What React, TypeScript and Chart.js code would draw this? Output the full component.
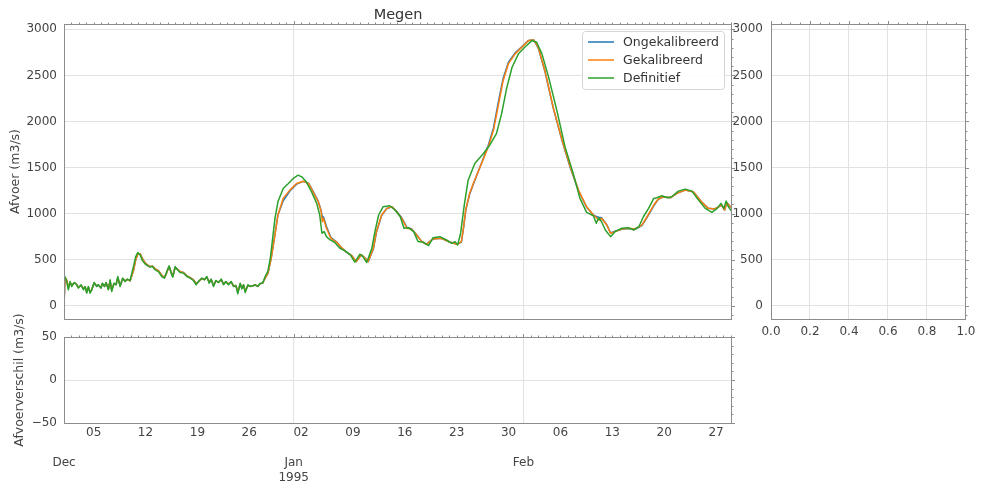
import React, { useEffect, useRef } from 'react';
import { Chart, registerables } from 'chart.js';

Chart.register(...registerables);

const W = 981;
const H = 486;
const FONT = "'DejaVu Sans', sans-serif";
const TEXT = '#444444';
const GRID = '#e2e2e2';
const SPINE = '#8c8c8c';
const BLUE = '#1f77b4';
const ORANGE = '#ff7f0e';
const GREEN = '#2ca02c';

// ---- data: time in days since 1994-12-01 00:00, discharge in m3/s ----
const definitiefTijd = [
  0.14, 0.36, 0.59, 0.82, 1.04, 1.4, 1.71, 1.94, 2.31, 2.62, 2.84, 3.07, 3.29, 3.51, 3.75,
  4.06, 4.42, 4.64, 5.0, 5.18, 5.46, 5.68, 5.99, 6.22, 6.44, 6.75, 7.03, 7.26, 7.57, 7.93,
  8.24, 8.56, 8.92, 9.37, 9.68, 9.95, 10.27, 10.59, 10.95, 11.3, 11.62, 11.94, 12.3, 12.75, 13.2,
  13.56, 13.87, 14.19, 14.46, 14.68, 15.0, 15.32, 15.67, 16.12, 16.58, 17.03, 17.47, 17.83, 18.15, 18.6,
  18.96, 19.27, 19.6, 19.86, 20.18, 20.49, 20.85, 21.22, 21.53, 21.84, 22.2, 22.56, 22.88, 23.2, 23.46,
  23.78, 24.0, 24.23, 24.46, 24.82, 25.13, 25.44, 25.8, 26.17, 26.48, 26.8, 27.15, 27.52,
  27.85, 28.1, 28.47, 28.87, 29.58, 30.28, 30.94, 31.59, 32.09, 32.7, 33.4, 34.11, 34.51, 34.81, 35.11,
  35.42, 35.92, 36.52, 37.23, 37.93, 38.64, 39.24, 39.94, 40.35, 40.85, 41.55, 41.96, 42.46, 43.06, 43.97,
  44.67, 45.38, 45.88, 46.48, 47.19, 47.79, 48.5, 49.2, 49.81, 50.71, 51.62, 52.32, 52.77, 53.13, 53.53,
  54.03, 54.54, 55.44, 56.6, 57.45, 58.36, 59.06, 59.77, 60.47, 61.33, 62.18, 63.14, 63.79, 64.5, 65.4,
  66.51, 67.62, 68.72, 69.63, 70.53, 71.44, 71.84, 72.15, 72.55, 73.05, 73.76, 74.36, 75.27, 76.17, 76.88,
  77.58, 78.19, 78.89, 79.59, 80.0, 80.7, 81.4, 82.01, 82.91, 83.82, 84.73, 85.63, 86.54, 87.44, 88.15,
  88.65, 89.05, 89.36, 89.66, 90.16,
];
const definitiefAfvoer = [
  317, 263, 173, 263, 209, 252, 227, 191, 227, 173, 209, 137, 209, 137, 173,
  252, 209, 227, 191, 245, 209, 252, 173, 281, 155, 245, 227, 317, 209, 300,
  263, 289, 274, 425, 533, 577, 552, 490, 454, 433, 419, 425, 390, 371, 317,
  300, 371, 433, 354, 310, 425, 390, 360, 354, 317, 300, 274, 227, 263, 300,
  281, 317, 245, 289, 209, 274, 252, 289, 227, 263, 227, 263, 209, 216, 130,
  245, 181, 227, 144, 227, 209, 216, 227, 209, 245, 245, 317, 375,
  520, 690, 949, 1128, 1273, 1327, 1382, 1417, 1399, 1345, 1237, 1111, 985, 787, 804,
  750, 714, 689, 624, 595, 552, 473, 559, 533, 469, 624, 804, 985, 1074, 1085,
  1039, 966, 841, 847, 804, 696, 689, 653, 739, 750, 714, 678, 696, 660, 790,
  1100, 1363, 1544, 1652, 1742, 1868, 2085, 2373, 2589, 2734, 2806, 2878, 2860, 2734, 2481,
  2121, 1724, 1436, 1165, 1014, 977, 895, 955, 912, 822, 750, 804, 841, 847, 822,
  858, 966, 1057, 1165, 1172, 1194, 1172, 1183, 1244, 1266, 1244, 1147, 1057, 1014, 1057,
  1111, 1057, 1136, 1074, 1020,
];

const gekalibreerdTijd = [
  0.0, 0.14, 0.36, 0.59, 0.82, 1.04, 1.4, 1.71, 1.94, 2.31, 2.62, 2.84, 3.07, 3.29, 3.51, 3.75,
  4.06, 4.42, 4.64, 5.0, 5.18, 5.46, 5.68, 5.99, 6.22, 6.44, 6.75, 7.03, 7.26, 7.57, 7.93,
  8.24, 8.56, 8.92, 9.37, 9.68, 9.95, 10.27, 10.59, 10.95, 11.3, 11.62, 11.94, 12.3, 12.75, 13.2,
  13.56, 13.87, 14.19, 14.46, 14.68, 15.0, 15.32, 15.67, 16.12, 16.58, 17.03, 17.47, 17.83, 18.15, 18.6,
  18.96, 19.27, 19.6, 19.86, 20.18, 20.49, 20.85, 21.22, 21.53, 21.84, 22.2, 22.56, 22.88, 23.2, 23.46,
  23.78, 24.0, 24.23, 24.46, 24.82, 25.13, 25.44, 25.8, 26.17, 26.48, 26.8, 27.15, 27.52,
  27.97, 28.47, 28.87, 29.58, 30.48, 31.39, 32.3, 33.0, 33.6, 34.31, 34.71, 34.86, 35.01, 35.42, 36.02,
  36.82, 37.43, 38.13, 38.84, 39.44, 40.14, 40.65, 41.05, 41.75, 42.16, 42.86, 43.57, 44.27, 44.88, 45.58,
  46.28, 46.89, 47.59, 48.3, 48.9, 49.81, 50.91, 52.12, 53.03, 53.63, 53.93, 54.23, 54.74, 55.24, 56.35,
  57.25, 57.96, 58.66, 59.27, 59.97, 60.88, 61.78, 62.69, 63.39, 63.99, 64.9, 66.01, 67.22, 68.32, 69.43,
  70.53, 71.44, 71.94, 72.15, 72.55, 73.25, 73.76, 74.36, 75.27, 76.17, 77.08, 77.98, 78.69, 79.59, 80.2,
  80.9, 81.81, 82.71, 83.82, 84.93, 86.03, 86.94, 87.84, 88.75, 89.15, 89.45, 90.16,
];
const gekalibreerdAfvoer = [
  0, 300, 280, 200, 250, 225, 250, 230, 200, 220, 185, 205, 150, 200, 150, 175,
  245, 215, 225, 195, 240, 210, 250, 180, 270, 170, 240, 230, 305, 220, 295,
  270, 285, 270, 380, 500, 560, 565, 510, 465, 440, 425, 430, 400, 380, 330,
  305, 360, 425, 365, 320, 415, 395, 370, 360, 325, 305, 280, 240, 260, 295,
  285, 310, 255, 285, 220, 270, 255, 285, 235, 260, 235, 260, 215, 220, 150,
  235, 190, 225, 160, 220, 210, 215, 225, 210, 240, 245, 300, 350,
  516, 768, 985, 1165, 1255, 1327, 1352, 1327, 1237, 1128, 1020, 912, 949, 841, 732,
  689, 631, 581, 544, 479, 552, 516, 479, 624, 804, 985, 1057, 1074, 1020, 949,
  841, 833, 768, 696, 667, 725, 732, 689, 667, 696, 858, 1050, 1219, 1327, 1544,
  1724, 1904, 2193, 2445, 2626, 2734, 2806, 2878, 2885, 2806, 2553, 2157, 1796, 1508, 1255,
  1074, 985, 949, 930, 949, 876, 787, 804, 833, 841, 833, 876, 966, 1093, 1158,
  1183, 1172, 1219, 1255, 1237, 1128, 1057, 1050, 1093, 1039, 1118, 1057,
];
// Ongekalibreerd shares the time stamps of Gekalibreerd
const ongekalibreerdAfvoer = [
  0, 300, 280, 200, 250, 225, 250, 230, 200, 220, 185, 205, 150, 200, 150, 175,
  245, 215, 225, 195, 240, 210, 250, 180, 270, 170, 240, 230, 305, 220, 295,
  270, 285, 270, 380, 500, 560, 565, 510, 465, 440, 425, 430, 400, 380, 330,
  305, 360, 425, 365, 320, 415, 395, 370, 360, 325, 305, 280, 240, 260, 295,
  285, 310, 255, 285, 220, 270, 255, 285, 235, 260, 235, 260, 215, 220, 150,
  235, 190, 225, 160, 220, 210, 215, 225, 210, 240, 245, 300, 350,
  520, 775, 985, 1140, 1245, 1320, 1350, 1330, 1245, 1135, 1030, 960, 965, 860, 740,
  690, 631, 581, 544, 479, 552, 516, 479, 615, 795, 980, 1055, 1074, 1025, 955,
  850, 835, 770, 696, 667, 725, 732, 689, 667, 690, 850, 1040, 1210, 1320, 1550,
  1740, 1930, 2230, 2470, 2640, 2745, 2810, 2880, 2885, 2800, 2545, 2150, 1790, 1500, 1250,
  1070, 985, 965, 960, 955, 880, 790, 808, 830, 838, 830, 870, 960, 1085, 1155,
  1183, 1172, 1219, 1255, 1237, 1128, 1057, 1050, 1093, 1039, 1118, 1057,
];

// ---- axes ----
const xMin = 0;
const xMax = 90.15;
const afvoerMin = -144;
const afvoerMax = 3058;
const afvoerTicks = [0, 500, 1000, 1500, 2000, 2500, 3000];
const verschilTicks = [-50, 0, 50];
const verschilLabels = ['\u221250', '0', '50'];
const dagTickDagen = [4, 11, 18, 25, 32, 39, 46, 53, 60, 67, 74, 81, 88];
const dagTickLabels = ['05', '12', '19', '26', '02', '09', '16', '23', '30', '06', '13', '20', '27'];
const maandTickDagen = [0, 31, 62];
const maandTickLabels = [['Dec'], ['Jan', '1995'], ['Feb']];
const zijTicks = [0, 0.2, 0.4, 0.6, 0.8, 1.0];

const range = (a: number, b: number, s: number) => {
  const out: number[] = [];
  for (let v = a; v <= b + 1e-9; v += s) out.push(Math.round(v * 1000) / 1000);
  return out;
};

const dayMinor = range(1, 90, 1).filter((d) => !maandTickDagen.includes(d));
const dayMajor = maandTickDagen.filter((d) => d > 0);
const afvoerMinor = range(-100, 3000, 100).filter((v) => v % 500 !== 0);
const verschilMinor = range(-40, 40, 10).filter((v) => v !== 0);
const zijMinor = range(0, 1, 0.05).filter((v) => Math.abs(v * 5 - Math.round(v * 5)) > 1e-6);

const framePlugin = {
  id: 'frame',
  afterDatasetsDraw(chart: any, _args: any, opts: any) {
    const { ctx, chartArea: a } = chart;
    const L = a.left + 0.5;
    const R = a.right - 0.5;
    const T = a.top + 0.5;
    const B = a.bottom + 0.5;
    ctx.save();
    ctx.strokeStyle = SPINE;
    ctx.lineWidth = 1;
    ctx.beginPath();
    if (opts.top) {
      const sc = chart.scales[opts.top.axis];
      const draw = (vals: number[], len: number) => {
        vals.forEach((v) => {
          const px = Math.round(sc.getPixelForValue(v)) + 0.5;
          if (px < L - 0.6 || px > R + 0.6) return;
          ctx.moveTo(px, T);
          ctx.lineTo(px, T - len);
        });
      };
      draw(opts.top.minor, 2);
      draw(opts.top.major, 3.5);
    }
    if (opts.right) {
      const sc = chart.scales[opts.right.axis];
      const draw = (vals: number[], len: number) => {
        vals.forEach((v) => {
          const py = Math.round(sc.getPixelForValue(v)) + 0.5;
          if (py < T - 0.6 || py > B + 0.6) return;
          ctx.moveTo(R, py);
          ctx.lineTo(R + len, py);
        });
      };
      draw(opts.right.minor, 2);
      draw(opts.right.major, 3.5);
    }
    ctx.stroke();
    ctx.strokeRect(L, T, R - L, B - T);
    ctx.restore();
  },
};

const titleLegendPlugin = {
  id: 'titleLegend',
  afterDraw(chart: any, _args: any, opts: any) {
    if (!opts || !opts.enabled) return;
    const { ctx, chartArea: a } = chart;
    ctx.save();
    ctx.fillStyle = '#333333';
    ctx.font = `14.5px ${FONT}`;
    ctx.textAlign = 'center';
    ctx.textBaseline = 'alphabetic';
    ctx.fillText(opts.title, (a.left + a.right) / 2, 18.5);

    const bx = 582.5;
    const by = 31.5;
    const bw = 142;
    const bh = 58;
    const r = 3;
    ctx.beginPath();
    ctx.moveTo(bx + r, by);
    ctx.lineTo(bx + bw - r, by);
    ctx.arcTo(bx + bw, by, bx + bw, by + r, r);
    ctx.lineTo(bx + bw, by + bh - r);
    ctx.arcTo(bx + bw, by + bh, bx + bw - r, by + bh, r);
    ctx.lineTo(bx + r, by + bh);
    ctx.arcTo(bx, by + bh, bx, by + bh - r, r);
    ctx.lineTo(bx, by + r);
    ctx.arcTo(bx, by, bx + r, by, r);
    ctx.closePath();
    ctx.fillStyle = 'rgba(255,255,255,0.85)';
    ctx.fill();
    ctx.strokeStyle = '#d4d4d4';
    ctx.lineWidth = 1;
    ctx.stroke();

    ctx.font = `12.5px ${FONT}`;
    ctx.textAlign = 'left';
    ctx.textBaseline = 'middle';
    chart.data.datasets.forEach((ds: any, i: number) => {
      const y = 42 + i * 18;
      ctx.strokeStyle = ds.borderColor;
      ctx.lineWidth = 1.5;
      ctx.beginPath();
      ctx.moveTo(588, y);
      ctx.lineTo(614, y);
      ctx.stroke();
      ctx.fillStyle = '#333333';
      ctx.fillText(ds.label, 623, y + 0.5);
    });
    ctx.restore();
  },
};

const tickFont = { family: FONT, size: 12 };
const titleFont = { family: FONT, size: 12.5 };

function yAxis(min: number, max: number, values: number[], width: number, pad: number, label: (v: number) => string, title?: { text: string; padTop: number }) {
  return {
    type: 'linear' as const,
    position: 'left' as const,
    min,
    max,
    afterBuildTicks: (s: any) => {
      s.ticks = values.map((v) => ({ value: v }));
    },
    afterFit: (s: any) => {
      s.width = width;
    },
    grid: { color: GRID, lineWidth: 1, drawTicks: false },
    border: { display: false },
    ticks: { padding: pad, color: TEXT, font: tickFont, callback: (v: any) => label(Number(v)) },
    title: title
      ? { display: true, text: title.text, color: TEXT, font: titleFont, padding: { top: title.padTop, bottom: 0 } }
      : { display: false },
  };
}

function lineData(t: number[], v: number[]) {
  return t.map((x, i) => ({ x, y: v[i] }));
}

function tijdLabel(v: number): string | string[] {
  const d = dagTickDagen.indexOf(v);
  if (d >= 0) return dagTickLabels[d];
  const m = maandTickDagen.indexOf(v);
  if (m >= 0) return ['', '', ...maandTickLabels[m]];
  return '';
}

export default function App() {
  const mainRef = useRef<HTMLCanvasElement>(null);
  const sideRef = useRef<HTMLCanvasElement>(null);
  const diffRef = useRef<HTMLCanvasElement>(null);

  useEffect(() => {
    const charts: Chart[] = [];
    const common = {
      responsive: false,
      maintainAspectRatio: false,
      animation: false as const,
      events: [] as any[],
    };

    // main panel
    charts.push(
      new Chart(mainRef.current as HTMLCanvasElement, {
        type: 'line',
        data: {
          datasets: [
            { label: 'Ongekalibreerd', data: lineData(gekalibreerdTijd, ongekalibreerdAfvoer), borderColor: BLUE, order: 2 },
            { label: 'Gekalibreerd', data: lineData(gekalibreerdTijd, gekalibreerdAfvoer), borderColor: ORANGE, order: 1 },
            { label: 'Definitief', data: lineData(definitiefTijd, definitiefAfvoer), borderColor: GREEN, order: 0 },
          ].map((d) => ({ ...d, borderWidth: 1.5, pointRadius: 0, tension: 0, fill: false, borderJoinStyle: 'round' as const })),
        },
        options: {
          ...common,
          layout: { padding: { left: 0, top: 24, right: W - 732, bottom: H - 319 } },
          plugins: {
            legend: { display: false },
            tooltip: { enabled: false },
            frame: {
              top: { axis: 'x', minor: dayMinor, major: dayMajor },
              right: { axis: 'y', minor: afvoerMinor, major: afvoerTicks },
            },
            titleLegend: { enabled: true, title: 'Megen' },
          } as any,
          scales: {
            x: {
              type: 'linear',
              min: xMin,
              max: xMax,
              afterBuildTicks: (s: any) => {
                s.ticks = dayMajor.map((v) => ({ value: v }));
              },
              afterFit: (s: any) => {
                s.height = 0;
              },
              ticks: { display: false },
              grid: { color: GRID, drawTicks: false },
              border: { display: false },
            },
            y: yAxis(afvoerMin, afvoerMax, afvoerTicks, 64, 7, (v) => String(v), { text: 'Afvoer (m3/s)', padTop: 8.5 }),
          } as any,
        },
        plugins: [framePlugin, titleLegendPlugin],
      })
    );

    // side panel
    charts.push(
      new Chart(sideRef.current as HTMLCanvasElement, {
        type: 'line',
        data: { datasets: [] },
        options: {
          ...common,
          layout: { padding: { left: 733, top: 24, right: W - 967, bottom: 0 } },
          plugins: {
            legend: { display: false },
            tooltip: { enabled: false },
            frame: {
              top: { axis: 'x', minor: zijMinor, major: zijTicks },
              right: { axis: 'y', minor: afvoerMinor, major: afvoerTicks },
            },
          } as any,
          scales: {
            x: {
              type: 'linear',
              min: 0,
              max: 1,
              afterBuildTicks: (s: any) => {
                s.ticks = zijTicks.map((v) => ({ value: v }));
              },
              afterFit: (s: any) => {
                s.height = H - 319;
              },
              ticks: {
                padding: 5.5,
                color: TEXT,
                font: { ...tickFont, lineHeight: 1.25 },
                maxRotation: 0,
                minRotation: 0,
                autoSkip: false,
                callback: (v: any) => Number(v).toFixed(1),
              },
              grid: { color: GRID, drawTicks: false },
              border: { display: false },
            },
            y: yAxis(afvoerMin, afvoerMax, afvoerTicks, 38, 8, (v) => String(v)),
          } as any,
        },
        plugins: [framePlugin],
      })
    );

    // difference panel
    charts.push(
      new Chart(diffRef.current as HTMLCanvasElement, {
        type: 'line',
        data: { datasets: [] },
        options: {
          ...common,
          layout: { padding: { left: 0, top: 337, right: W - 732, bottom: 0 } },
          plugins: {
            legend: { display: false },
            tooltip: { enabled: false },
            frame: {
              top: { axis: 'x', minor: dayMinor, major: dayMajor },
              right: { axis: 'y', minor: verschilMinor, major: verschilTicks },
            },
          } as any,
          scales: {
            x: {
              type: 'linear',
              min: xMin,
              max: xMax,
              afterBuildTicks: (s: any) => {
                s.ticks = [...dagTickDagen, ...maandTickDagen].sort((a, b) => a - b).map((v) => ({ value: v }));
              },
              afterFit: (s: any) => {
                s.height = H - 423;
              },
              ticks: {
                padding: 2.5,
                color: TEXT,
                font: { ...tickFont, lineHeight: 1.25 },
                maxRotation: 0,
                minRotation: 0,
                autoSkip: false,
                callback: (v: any) => tijdLabel(Number(v)),
              },
              grid: {
                drawTicks: false,
                color: (c: any) => (c.tick && dayMajor.includes(c.tick.value) ? GRID : 'rgba(0,0,0,0)'),
              },
              border: { display: false },
            },
            y: yAxis(-50, 50, verschilTicks, 64, 7, (v) => verschilLabels[verschilTicks.indexOf(v)] ?? '', {
              text: 'Afvoerverschil (m3/s)',
              padTop: 12.5,
            }),
          } as any,
        },
        plugins: [framePlugin],
      })
    );

    return () => charts.forEach((c) => c.destroy());
  }, []);

  const cs: React.CSSProperties = { position: 'absolute', left: 0, top: 0, width: W, height: H };
  return (
    <div style={{ position: 'absolute', left: 0, top: 0, width: W, height: H, background: '#ffffff', overflow: 'hidden' }}>
      <canvas ref={diffRef} width={W} height={H} style={cs} />
      <canvas ref={sideRef} width={W} height={H} style={cs} />
      <canvas ref={mainRef} width={W} height={H} style={cs} />
    </div>
  );
}
